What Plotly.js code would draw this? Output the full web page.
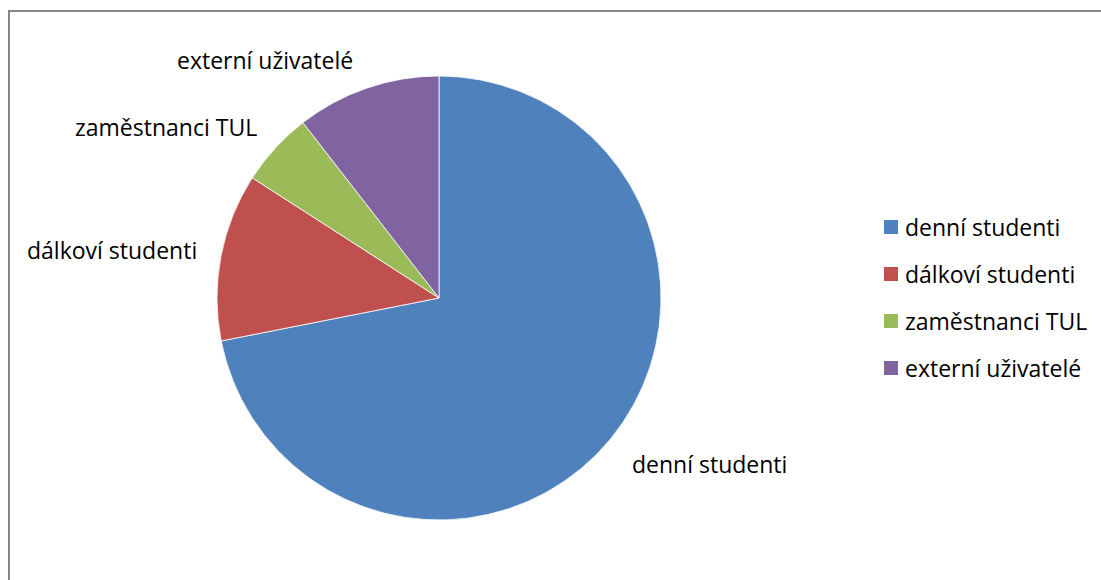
<!DOCTYPE html>
<html>
<head>
<meta charset="utf-8">
<script src="https://cdn.plot.ly/plotly-3.0.1.min.js"></script>
<style>html,body{margin:0;padding:0;background:#fff;}#chart{width:1101px;height:580px;}</style>
</head>
<body>
<div id="chart"></div>
<script>
var labels = ["denní studenti", "dálkoví studenti", "zaměstnanci TUL", "externí uživatelé"];
var values = [71.9, 12.2, 5.4, 10.5];
var colors = ["#4F81BD", "#C0504D", "#9BBB59", "#8064A2"];

var W = 1101, H = 580;
function px(x){ return x / W; }
function py(y){ return 1 - y / H; }

var FONT = "'Open Sans', sans-serif";
var FS = 23;

// pie geometry in pixels
var cx = 439, cy = 298, r = 222;

var trace = {
  type: "pie",
  labels: labels,
  values: values,
  marker: {colors: colors, line: {color: "#ffffff", width: 0.8}},
  sort: false,
  direction: "clockwise",
  rotation: 0,
  textinfo: "none",
  hoverinfo: "label+value",
  showlegend: false,
  domain: {x: [px(cx - r), px(cx + r)], y: [py(cy + r), py(cy - r)]}
};

var labelPos = [[709, 464], [112, 250], [166, 127], [265, 60]];
var annotations = labels.map(function(l, i){
  return {text: l, xref: "paper", yref: "paper", x: px(labelPos[i][0]), y: py(labelPos[i][1]),
          xanchor: "center", yanchor: "middle", showarrow: false,
          font: {family: FONT, size: FS, color: "#000"}};
});

// manual legend
var legX = 884, legY0 = 227, legGap = 47, sq = 14;
var shapes = [{type: "rect", xref: "paper", yref: "paper", x0: px(9), x1: px(1130), y0: py(620), y1: py(11),
               line: {color: "#868686", width: 2}, fillcolor: "rgba(0,0,0,0)"}];
labels.forEach(function(l, i){
  var yc = legY0 + i * legGap;
  shapes.push({type: "rect", xref: "paper", yref: "paper", x0: px(legX), x1: px(legX + sq),
               y0: py(yc + sq/2), y1: py(yc - sq/2), line: {width: 0}, fillcolor: colors[i]});
  annotations.push({text: l, xref: "paper", yref: "paper", x: px(legX + 19), y: py(yc),
                    xanchor: "left", yanchor: "middle", showarrow: false,
                    font: {family: FONT, size: FS, color: "#000"}});
});

var layout = {
  width: W, height: H,
  margin: {l: 0, r: 0, t: 0, b: 0},
  paper_bgcolor: "#ffffff",
  showlegend: false,
  annotations: annotations,
  shapes: shapes
};

Plotly.newPlot("chart", [trace], layout, {displayModeBar: false, staticPlot: true});
</script>
</body>
</html>
